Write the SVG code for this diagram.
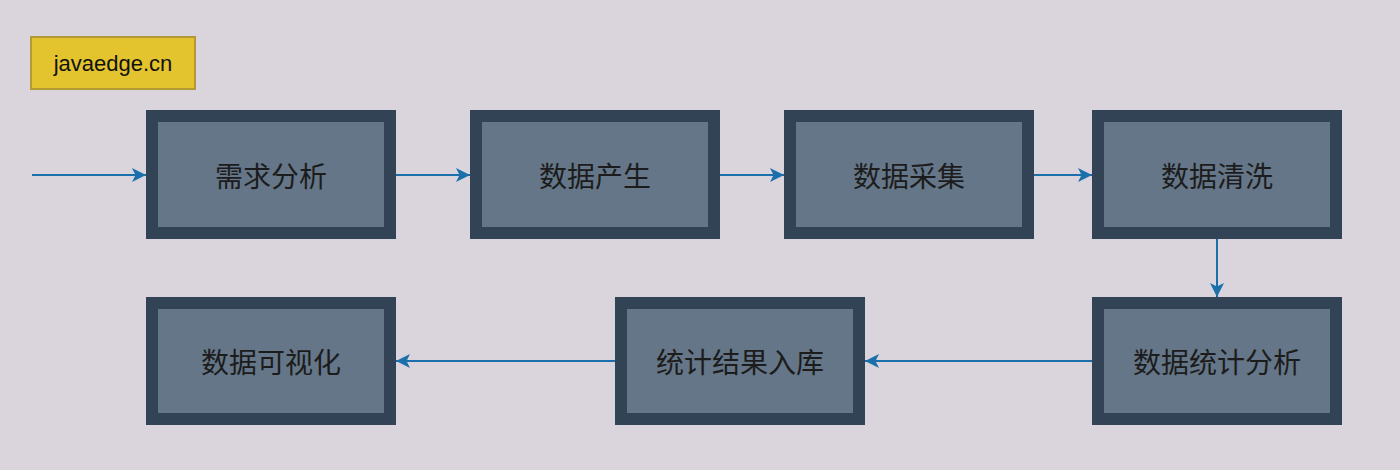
<svg xmlns="http://www.w3.org/2000/svg" width="1400" height="470" viewBox="0 0 1400 470">
  <style>
    .box rect { fill: #647687; stroke: #314354; stroke-width: 12; }
    .box text { font-family: "Noto Sans CJK SC", "Noto Sans", sans-serif; font-size: 28px; fill: #1c1c1c; text-anchor: middle; dominant-baseline: central; }
    .conn line { stroke: #1b6fab; stroke-width: 2; fill: none; marker-end: url(#arr); }
    .tag rect { fill: #e3c32e; stroke: #b39a35; stroke-width: 2; }
    .tag text { font-family: "Liberation Sans", Arial, sans-serif; font-size: 22px; fill: #111; text-anchor: middle; dominant-baseline: central; }
  </style>
  <defs>
    <marker id="arr" markerUnits="userSpaceOnUse" markerWidth="16" markerHeight="16" refX="15" refY="8" orient="auto">
      <path d="M1,1 L15,8 L1,15 L4.5,8 Z" fill="#1b6fab"/>
    </marker>
  </defs>
  <rect x="0" y="0" width="1400" height="470" fill="#dad4dc"/>

  <g id="tag" class="tag">
    <rect x="31" y="37" width="164" height="52"/>
    <text x="113" y="63">javaedge.cn</text>
  </g>

  <g id="connectors" class="conn">
    <line x1="32" y1="175" x2="146" y2="175"/>
    <line x1="396" y1="175" x2="470" y2="175"/>
    <line x1="720" y1="175" x2="784" y2="175"/>
    <line x1="1034" y1="175" x2="1092" y2="175"/>
    <line x1="1217" y1="239" x2="1217" y2="297"/>
    <line x1="1092" y1="361" x2="865" y2="361"/>
    <line x1="615" y1="361" x2="396" y2="361"/>
  </g>

  <g id="n1" class="box">
    <rect x="152" y="116" width="238" height="117"/>
    <text x="271" y="174.5">需求分析</text>
  </g>
  <g id="n2" class="box">
    <rect x="476" y="116" width="238" height="117"/>
    <text x="595" y="174.5">数据产生</text>
  </g>
  <g id="n3" class="box">
    <rect x="790" y="116" width="238" height="117"/>
    <text x="909" y="174.5">数据采集</text>
  </g>
  <g id="n4" class="box">
    <rect x="1098" y="116" width="238" height="117"/>
    <text x="1217" y="174.5">数据清洗</text>
  </g>
  <g id="n5" class="box">
    <rect x="1098" y="303" width="238" height="116"/>
    <text x="1217" y="361">数据统计分析</text>
  </g>
  <g id="n6" class="box">
    <rect x="621" y="303" width="238" height="116"/>
    <text x="740" y="361">统计结果入库</text>
  </g>
  <g id="n7" class="box">
    <rect x="152" y="303" width="238" height="116"/>
    <text x="271" y="361">数据可视化</text>
  </g>
</svg>
